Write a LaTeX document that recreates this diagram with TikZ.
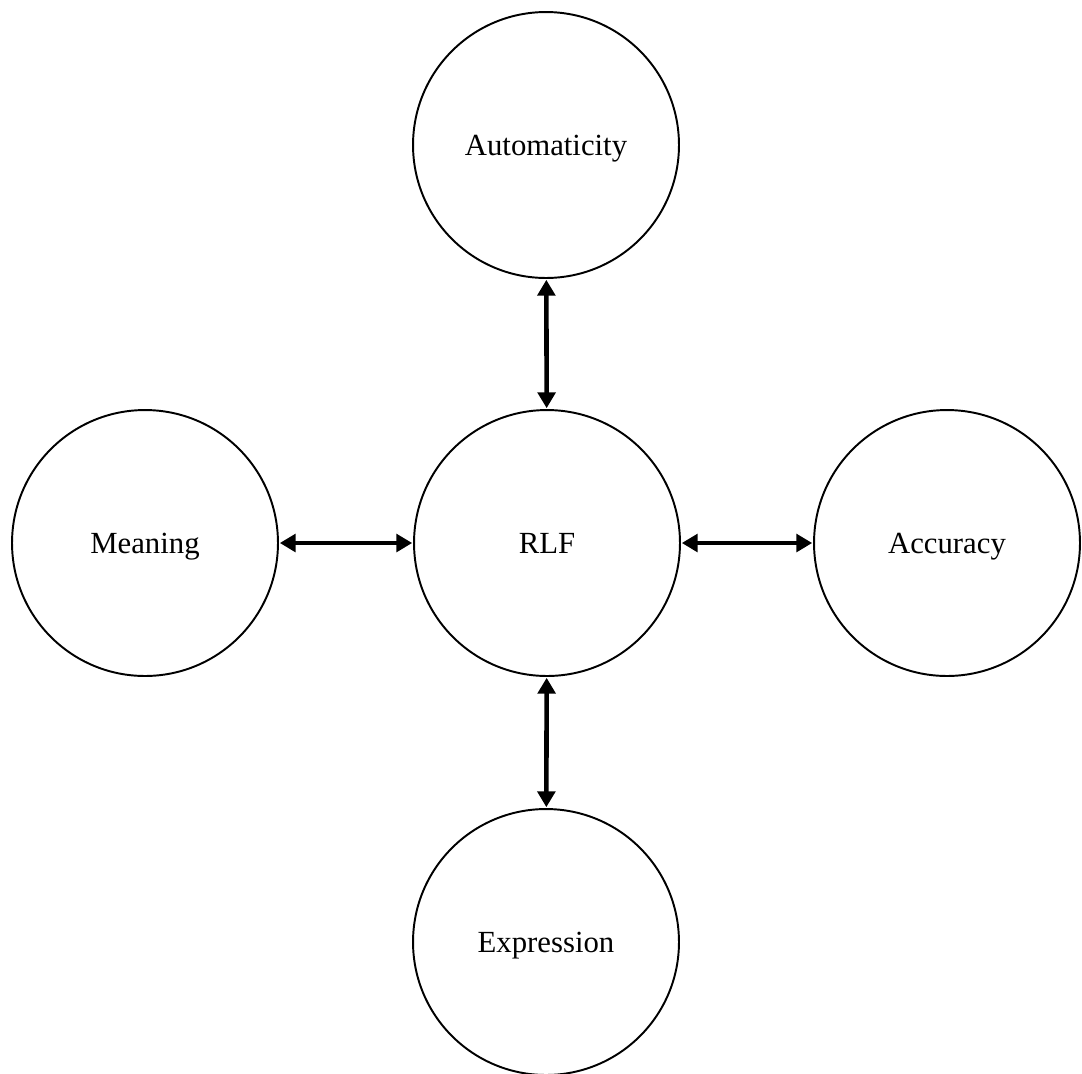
\documentclass[tikz,border=0pt]{standalone}
\usepackage{fontspec}
\setmainfont{Liberation Serif}
\usetikzlibrary{arrows.meta}

\begin{document}
\begin{tikzpicture}[x=0.02cm,y=-0.02cm,
  bubble/.style={draw,circle,line width=1.1pt,minimum size=5.32cm,inner sep=0pt,
    text depth=0pt,font=\fontsize{17.5}{21}\selectfont},
  link/.style={line width=2.6pt,{Triangle[length=9pt,width=10pt]}-{Triangle[length=9pt,width=10pt]},shorten <=0.5pt,shorten >=0.5pt}]
\useasboundingbox (0,0) rectangle (1082,1073);
\node[bubble] (rlf) at (547,543) {RLF};
\node[bubble] (auto) at (546,145) {Automaticity};
\node[bubble] (mean) at (145,543) {Meaning};
\node[bubble] (acc) at (947,543) {Accuracy};
\node[bubble] (expr) at (546,942) {Expression};
\draw[link] (auto) -- (rlf);
\draw[link] (mean) -- (rlf);
\draw[link] (rlf) -- (acc);
\draw[link] (rlf) -- (expr);
\end{tikzpicture}
\end{document}
